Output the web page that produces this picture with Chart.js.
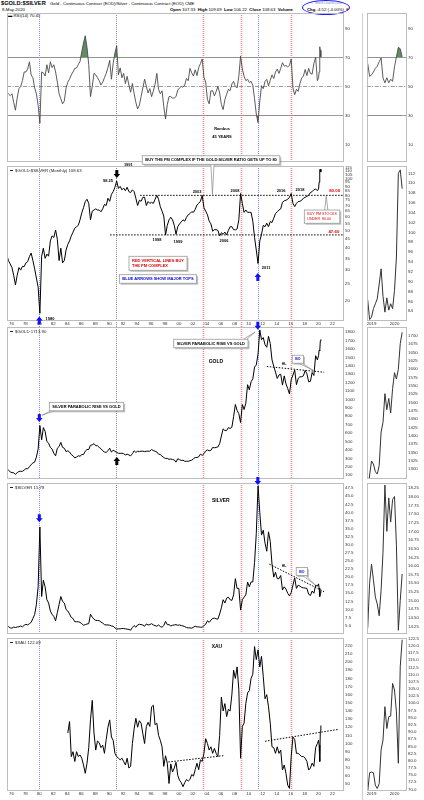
<!DOCTYPE html>
<html>
<head>
<meta charset="utf-8">
<script src="https://cdn.jsdelivr.net/npm/chart.js@4/dist/chart.umd.min.js"></script>
<style>
  body { margin: 0; background: #fff; width: 424px; height: 800px; position: relative; overflow: hidden;
         font-family: "Liberation Sans", Arial, sans-serif; }
  canvas { position: absolute; }
  .t { position: absolute; white-space: nowrap; color: #000; line-height: 1; }
</style>
</head>
<body>
<div class="t" style="left:1px;top:1px;font-size:5.7px;font-weight:bold">$GOLD:$SILVER</div>
<div class="t" style="left:50px;top:2px;font-size:4.3px">Gold - Continuous Contract (EOD)/Silver - Continuous Contract (EOD) CME</div>
<div class="t" style="left:311px;top:1.5px;font-size:3.6px;color:#7d8db0">&copy; StockCharts.com</div>
<div class="t" style="left:2px;top:7.5px;font-size:4.3px">8-May-2020</div>
<div class="t" style="left:170px;top:7.5px;font-size:4.3px"><b>Open</b> 107.33 &nbsp;<b>High</b> 109.69 &nbsp;<b>Low</b> 106.22 &nbsp;<b>Close</b> 108.63 &nbsp;<b>Volume</b></div>
<div class="t" style="left:307px;top:7.5px;font-size:4.3px"><b>Chg</b> -4.52 (-4.00%) <span style="color:#d00">&#9660;</span></div>
<div style="position:absolute;left:302px;top:0;width:46px;height:13px;border:1.3px solid #1c1cff;border-radius:50%"></div>
<div class="t" style="left:8px;top:13.5px;font-size:4.3px">&#9644; RSI(14) 70.43</div>
<div style="position:absolute;left:362px;top:13px;width:0;height:787px;border-left:1px solid #d0d0d0"></div>

<script>
// ---- data: quarterly closes from May 1975, then monthly for 2020 ----
const quarterlyFrom = 1975.33;
const quarterlyCount = 179;
const lastMonths = [2020.0, 2020.08, 2020.17, 2020.25, 2020.33];

const rsiValues = [
  46, 44.8, 43.7, 45, 39, 33.6, 42, 48.5, 50, 54,
  60, 60, 62, 67, 58, 56, 49, 45, 37, 24.6,
  60, 59.4, 57.2, 65, 59.4, 67, 63, 65, 60, 53,
  45, 41.5, 38, 40, 49, 53, 55, 58, 60, 62.5,
  62.8, 65, 67.3, 74, 80, 85, 77, 65, 43, 50,
  59, 58, 56, 54, 51, 53, 56, 59, 63, 68,
  55, 66, 73, 78, 58, 62.8, 56, 59, 52, 57,
  51, 46, 52, 45, 39, 34.5, 37, 43, 49, 55,
  50, 45.5, 48.5, 43, 46.7, 51.5, 59, 48, 45, 47,
  36, 27.5, 37.5, 43, 43, 42, 42, 43, 47.5, 49,
  50, 49.5, 51, 55.5, 54, 62.5, 59.4, 57.2, 61.5, 57.5,
  63, 65.8, 69, 56.4, 53, 41, 38, 47, 47, 43.5,
  46.5, 50, 45.5, 37.5, 34, 41, 44.6, 48, 47.1, 51.7,
  53.5, 50, 49, 57, 71, 62, 57, 54, 55, 52.7,
  53.5, 50.7, 41.5, 31, 25, 40, 50.5, 48.5, 53.5, 54.9,
  50.4, 54.2, 58, 55.5, 60, 62, 59, 62.5, 66.4, 64,
  64.5, 63.5, 64.5, 69, 49, 44.3, 48, 46.6, 52, 55.8,
  57.2, 61.7, 57.5, 62.5, 59, 58.5, 66, 70, 54,
  56, 60, 77.4, 75, 70.43
];

const ratioValues = [
  36.6, 34, 32.5, 31, 28, 24.7, 28, 31, 30, 31.5,
  31.4, 33, 33.5, 35.8, 37.5, 34, 30.5, 27, 24, 17,
  36, 40, 35, 37, 36, 44, 47, 46, 50.8, 45,
  34, 40, 33, 34, 39, 42, 44, 47, 49.4, 52,
  53, 54, 58, 63.6, 68, 73.7, 76, 72, 58, 65,
  66, 67, 66, 66, 64.5, 67, 71, 70, 77, 74,
  81, 84, 89, 96.6, 87.6, 90, 86, 88, 85, 89,
  84, 83, 86, 84, 77, 70, 75, 74, 78, 78,
  70, 73.7, 72, 73, 72, 76, 80, 76, 69, 65,
  61, 47.5, 54, 58, 60, 58, 54, 48, 53, 55,
  56.5, 58, 57, 60, 62, 63, 64.5, 64, 66.5, 70.5,
  72, 74, 80, 68, 65, 62, 57, 55, 50, 51,
  51, 50.5, 47, 49, 48, 49.4, 47.5, 50.5, 53, 53,
  51, 50.8, 51.5, 58, 82, 72, 64, 66, 64, 64,
  64, 57, 46, 39, 32.7, 44, 48, 54, 53, 55.5,
  53, 56.7, 56, 59.3, 63, 64.5, 66, 67, 73, 74.5,
  75, 76, 78, 82, 72, 69, 72, 73.7, 74, 75,
  77, 78, 79, 80, 83, 84, 86, 87, 85,
  87, 95, 112, 113, 108.63
];

const goldValues = [
  167, 160, 140, 130, 128, 110, 130, 143, 147, 145,
  161, 178, 175, 200, 225, 245, 255, 315, 410, 690,
  520, 665, 620, 500, 480, 430, 410, 360, 330, 420,
  440, 490, 430, 420, 380, 390, 375, 345, 330, 305,
  315, 330, 325, 345, 345, 385, 405, 405, 455, 460,
  475, 450, 450, 430, 415, 390, 375, 370, 390, 420,
  375, 395, 385, 370, 360, 360, 360, 355, 340, 350,
  340, 330, 355, 390, 370, 385, 380, 385, 385, 380,
  385, 385, 385, 405, 392, 385, 375, 350, 345, 325,
  310, 298, 300, 288, 292, 287, 280, 255, 295, 285,
  275, 278, 265, 265, 265, 272, 278, 295, 310, 310,
  318, 350, 335, 355, 385, 400, 390, 395, 430, 425,
  430, 435, 475, 565, 650, 630, 630, 665, 655, 670,
  795, 940, 870, 830, 725, 940, 880, 955, 1175, 1115,
  1210, 1245, 1385, 1410, 1540, 1825, 1710, 1735, 1650, 1620,
  1750, 1665, 1470, 1395, 1325, 1250, 1290, 1300, 1170, 1280,
  1185, 1130, 1065, 1235, 1290, 1350, 1175, 1250, 1270, 1270,
  1280, 1345, 1305, 1210, 1215, 1320, 1285, 1520, 1470,
  1520, 1585, 1577, 1694, 1713.9
];

const silverValues = [
  4.5, 4.7, 4.3, 4.2, 4.55, 4.4, 4.6, 4.6, 4.9, 4.6,
  5.1, 5.4, 5.2, 5.6, 6.0, 7.2, 8.4, 11.5, 17, 35.5,
  14, 19, 17, 13, 12, 9.5, 8.5, 7.8, 6.5, 9,
  11.5, 14, 12.5, 12, 10, 9.5, 8.6, 7.5, 7.2, 6.2,
  6.2, 6.2, 6.0, 5.6, 5.1, 5.3, 5.5, 5.6, 8.5, 7.6,
  7.0, 6.6, 6.6, 6.5, 6.1, 5.8, 5.3, 5.2, 5.2, 5.1,
  4.9, 4.8, 4.3, 3.9, 4.0, 4.0, 4.1, 4.1, 4.0, 3.9,
  3.8, 3.6, 4.4, 5.0, 4.5, 5.2, 5.4, 5.3, 5.2, 4.8,
  5.5, 5.2, 5.3, 5.6, 5.2, 5.0, 4.8, 5.2, 4.7, 4.5,
  5.0, 6.3, 5.3, 5.3, 4.9, 5.1, 5.2, 5.3, 5.1, 5.2,
  5.0, 4.9, 4.7, 4.4, 4.3, 4.3, 4.2, 4.5, 4.8, 4.6,
  4.6, 4.5, 4.5, 5.0, 5.4, 6.5, 6.0, 6.7, 7.2, 7.3,
  7.1, 7.0, 8.6, 10.5, 13.0, 12.0, 13.5, 13.8, 13.0, 12.8,
  14.5, 19.5, 16.5, 16.5, 9.8, 13.0, 13.8, 14.5, 18.5, 17.0,
  18.5, 18.5, 24.5, 33.5, 48.2, 40, 33, 34.5, 30.5, 28,
  34, 31, 24, 20, 21.5, 19.5, 19.5, 20.5, 16, 17,
  16.3, 15, 14.2, 15.2, 17.5, 19.8, 16.5, 17.5, 17.2, 16.8,
  16.7, 16.6, 16.5, 14.7, 14.3, 15.7, 15.0, 17.5, 17.2,
  17.9, 16.6, 14.0, 15.0, 15.78
];

// XAU starts in 1984 (quarter index 35)
const xauFirstIndex = 35;
const xauValues = [
  113, 127, 84, 90, 78,
  90, 84, 86, 82, 73.7, 63.5, 75.8, 95, 129, 153,
  113, 92, 103, 101, 95, 98, 88, 105, 120, 129,
  108, 104, 88, 84, 82, 80, 82, 78, 73.7, 82,
  70, 72, 100, 118, 131, 120, 128, 125, 112, 100,
  121, 126, 121, 145, 147, 123, 125, 110, 104, 96,
  72, 85, 76, 51, 75, 65, 70, 77, 61, 55,
  52, 47, 52, 56, 54, 56, 62, 60, 68, 75.8,
  68, 80, 78, 88, 106, 100, 92, 96, 88, 94,
  88, 84, 110, 157, 140, 149, 133, 142, 140, 160,
  190, 180, 194, 166, 82, 121, 125, 149, 162, 165,
  180, 185, 219, 203, 215, 194, 207, 182, 155, 160,
  145, 125, 96, 95, 88, 96, 88, 92, 67.5, 73.7,
  63.5, 49, 45, 84, 108, 105, 88, 88, 86, 84,
  84, 82, 78, 67.5, 70, 76, 72, 95, 100,
  104, 98, 78, 115, 122.09
];

// ---- right-hand detail charts: monthly Nov 2018 .. May 2020 ----
const smallFrom = 2018.833;
const smallRsi = [65.9, 57, 58, 60, 62.5, 64, 67, 69.7, 55.8, 52.5, 56, 52.5, 55, 53.5, 63.6, 70.4, 77, 76, 70.4];
const smallRatio = [86.3, 82.3, 82.8, 84.5, 85.5, 86.5, 89.5, 92.6, 87, 83.8, 86.7, 84.2, 85.5, 84.5, 88.2, 95, 112, 112.7, 108.9];
const smallGold = [1222, 1282, 1324, 1315, 1292, 1285, 1310, 1411, 1440, 1526, 1478, 1512, 1468, 1541, 1589, 1570, 1599, 1676, 1710];
const smallSilver = [14.2, 15.5, 16.05, 15.6, 15.1, 14.9, 14.56, 15.3, 16.4, 18.34, 17.0, 17.97, 17.27, 17.92, 18.01, 16.6, 14.14, 15.0, 15.77];
const smallXau = [69.2, 75.8, 76, 75.8, 71.5, 70.3, 72, 83.7, 87.2, 98.8, 91.2, 95.3, 95.5, 106.9, 104.6, 97, 79.1, 112.7, 122.09];

// ---- axis ticks ----
const yearTicks = [1976, 1978, 1980, 1982, 1984, 1986, 1988, 1990, 1992, 1994, 1996, 1998,
                   2000, 2002, 2004, 2006, 2008, 2010, 2012, 2014, 2016, 2018, 2020, 2022];
const smallYearTicks = [2019, 2020];
const rsiTicks = [10, 30, 50, 70, 90];
const ratioTicks = [20, 25, 30, 35, 40, 45, 50, 55, 60, 65, 70, 75, 80, 85, 90, 95, 100, 105, 110, 115];
const goldTicks = [100, 200, 300, 400, 500, 600, 700, 800, 900, 1000, 1100, 1200, 1300, 1400, 1500, 1600, 1700, 1800];
const silverTicks = [5, 7.5, 10, 12.5, 15, 17.5, 20, 22.5, 25, 27.5, 30, 32.5, 35, 37.5, 40, 42.5, 45, 47.5];
const xauTicks = [50, 60, 70, 80, 90, 100, 110, 120, 130, 140, 150, 160, 170, 180, 190, 200, 210, 220];
const smallRatioTicks = [84, 86, 88, 90, 92, 94, 96, 98, 100, 102, 104, 106, 108, 110, 112];
const smallGoldTicks = [1300, 1325, 1350, 1375, 1400, 1425, 1450, 1475, 1500, 1525, 1550, 1575, 1600, 1625, 1650, 1675, 1700];
const smallSilverTicks = [14.25, 14.5, 14.75, 15, 15.25, 15.5, 15.75, 16, 16.25, 16.5, 16.75, 17, 17.25, 17.5, 17.75, 18, 18.25];
const smallXauTicks = [70, 72.5, 75, 77.5, 80, 82.5, 85, 87.5, 90, 92.5, 95, 97.5, 100, 102.5, 105, 107.5, 110, 112.5, 115, 117.5, 120, 122.5];

// vertical marker lines (buy = red, major tops = blue)
const markerYears = [1980.0, 1991.0, 2003.5, 2008.95, 2011.3, 2016.05];
const markerColors = ['#8585ff', '#8c8c8c', '#f28a8a', '#f28a8a', '#8585ff', '#f28a8a'];

const dates = [];
for (let i = 0; i < quarterlyCount; i++) dates.push(quarterlyFrom + i * 0.25);
dates.push(...lastMonths);
const xauDates = dates.slice(xauFirstIndex);
const smallDates = smallRatio.map((_, i) => smallFrom + i / 12);

Chart.defaults.font.family = '"Liberation Sans", Arial, sans-serif';
const FONT = '"Liberation Sans", Arial, sans-serif';

function series(xs, ys, color, width) {
  return { data: xs.map((x, i) => ({ x: x, y: ys[i] })), borderColor: color, borderWidth: width,
           pointRadius: 0, fill: false };
}

function rsiSets(xs, ys, color) {
  return [
    Object.assign(series(xs, ys, color, 0.9),
      { fill: { target: { value: 70 }, above: '#5f8d5f', below: 'rgba(0,0,0,0)' } }),
    Object.assign(series(xs, ys, 'rgba(0,0,0,0)', 0),
      { fill: { target: { value: 30 }, above: 'rgba(0,0,0,0)', below: '#a65a4a' } })
  ];
}

function drawNotes(chart, notes) {
  const ctx = chart.ctx, a = chart.chartArea;
  const px = v => v === 'end' ? a.right : chart.scales.x.getPixelForValue(v);
  const py = v => chart.scales.y.getPixelForValue(v);
  notes.forEach(n => {
    ctx.save();
    if (n.t === 'text') {
      ctx.font = (n.bold === false ? '' : 'bold ') + (n.size || 4) + 'px ' + FONT;
      ctx.fillStyle = n.color || '#000';
      ctx.textAlign = n.align || 'center';
      ctx.textBaseline = 'middle';
      ctx.fillText(n.s, px(n.x), py(n.y));
    } else if (n.t === 'dline') {
      ctx.strokeStyle = '#000'; ctx.lineWidth = 1; ctx.setLineDash([1.5, 1.5]);
      ctx.beginPath(); ctx.moveTo(px(n.x1), py(n.y1)); ctx.lineTo(px(n.x2), py(n.y2)); ctx.stroke();
    } else if (n.t === 'arrow') {
      const x = px(n.x), y = py(n.y), d = n.dir === 'up' ? 1 : -1;
      ctx.fillStyle = n.color;
      ctx.beginPath();
      ctx.moveTo(x, y); ctx.lineTo(x - 3.3, y + 4 * d); ctx.lineTo(x - 1.5, y + 4 * d);
      ctx.lineTo(x - 1.5, y + 8 * d); ctx.lineTo(x + 1.5, y + 8 * d); ctx.lineTo(x + 1.5, y + 4 * d);
      ctx.lineTo(x + 3.3, y + 4 * d); ctx.closePath(); ctx.fill();
    } else if (n.t === 'box') {
      const size = n.size || 4;
      ctx.font = (n.bold === false ? '' : 'bold ') + size + 'px ' + FONT;
      const lh = size + 1.5;
      const w = Math.max.apply(null, n.lines.map(l => ctx.measureText(l).width)) + 6;
      const h = n.lines.length * lh + 3;
      const cx = px(n.x), cy = py(n.y);
      const L = cx - w / 2, T = cy - h / 2;
      ctx.fillStyle = 'rgba(0,0,0,0.25)'; ctx.fillRect(L + 1.5, T + 1.5, w, h);
      if (n.to) {
        const tx = px(n.to.x), ty = py(n.to.y);
        ctx.beginPath();
        if (ty > T + h || ty < T) {
          const bx = Math.min(Math.max(tx, L + 3), L + w - 3), by = ty > T + h ? T + h : T;
          ctx.moveTo(bx - 1.6, by); ctx.lineTo(tx, ty); ctx.lineTo(bx + 1.6, by);
        } else {
          const bx = tx > cx ? L + w : L, by = Math.min(Math.max(ty, T + 2), T + h - 2);
          ctx.moveTo(bx, by - 1.6); ctx.lineTo(tx, ty); ctx.lineTo(bx, by + 1.6);
        }
        ctx.fillStyle = '#fff'; ctx.fill();
        ctx.strokeStyle = '#888'; ctx.lineWidth = 0.7; ctx.stroke();
      }
      ctx.fillStyle = '#fff'; ctx.fillRect(L, T, w, h);
      ctx.strokeStyle = '#999'; ctx.lineWidth = 0.8; ctx.strokeRect(L, T, w, h);
      ctx.fillStyle = n.color || '#000'; ctx.textAlign = 'left'; ctx.textBaseline = 'middle';
      n.lines.forEach((l, i) => ctx.fillText(l, L + 3, T + 1.5 + lh * (i + 0.5)));
    }
    ctx.restore();
  });
}

let plugCount = 0;
function decoPlugin(o) {
  return {
    id: 'deco' + (plugCount++),
    beforeDatasetsDraw(chart) {
      const ctx = chart.ctx, a = chart.chartArea, s = chart.scales;
      ctx.save();
      (o.levels || []).forEach(v => {
        const y = Math.round(s.y.getPixelForValue(v)) + 0.5;
        ctx.strokeStyle = '#9c9c9c'; ctx.lineWidth = 1;
        ctx.setLineDash(v === 50 ? [4, 1.5, 1, 1.5] : []);
        ctx.beginPath(); ctx.moveTo(a.left, y); ctx.lineTo(a.right, y); ctx.stroke();
      });
      if (o.markers) markerYears.forEach((yr, i) => {
        const x = Math.round(s.x.getPixelForValue(yr)) + 0.5;
        ctx.strokeStyle = markerColors[i];
        ctx.lineWidth = markerColors[i] === '#f28a8a' ? 1.5 : 1;
        ctx.setLineDash([1, 1]);
        ctx.beginPath(); ctx.moveTo(x, a.top); ctx.lineTo(x, a.bottom + (o.markerExtra || 0)); ctx.stroke();
      });
      ctx.restore();
    },
    afterDatasetsDraw(chart) {
      const ctx = chart.ctx, a = chart.chartArea;
      ctx.save();
      ctx.strokeStyle = '#bdbdbd'; ctx.lineWidth = 1;
      ctx.strokeRect(Math.round(a.left) + 0.5, Math.round(a.top) + 0.5,
                     Math.round(a.right - a.left), Math.round(a.bottom - a.top));
      if (o.legend) {
        ctx.fillStyle = '#222';
        ctx.fillRect(a.left + 3, a.top + 4, 3, 1);
        ctx.font = '4.3px ' + FONT; ctx.textBaseline = 'middle';
        ctx.fillText(o.legend, a.left + 8, a.top + 4.5);
      }
      ctx.restore();
      drawNotes(chart, o.notes || []);
    }
  };
}

function panel(p) {
  const c = document.createElement('canvas');
  c.width = p.w; c.height = p.h;
  c.style.left = p.left + 'px'; c.style.top = p.top + 'px';
  c.style.width = p.w + 'px'; c.style.height = p.h + 'px';
  document.body.appendChild(c);
  const tickFont = { size: 4.4, family: FONT };
  return new Chart(c, {
    type: 'line',
    data: { datasets: p.datasets },
    plugins: [decoPlugin(p.deco || {})],
    options: {
      responsive: false, animation: false, devicePixelRatio: 1,
      layout: { padding: { left: p.padLeft, top: p.padTop, right: 0, bottom: 0 } },
      elements: { point: { radius: 0 }, line: { tension: 0 } },
      plugins: { legend: { display: false }, tooltip: { enabled: false } },
      scales: {
        x: {
          type: 'linear', min: p.xMin, max: p.xMax, display: !!p.xTicks,
          grid: { display: false, drawTicks: false }, border: { display: false },
          afterBuildTicks: s => { if (p.xTicks) s.ticks = p.xTicks.map(v => ({ value: v })); },
          afterFit: s => { s.height = p.xHeight || 0; },
          ticks: { font: tickFont, color: '#333', padding: 1.5, maxRotation: 0, autoSkip: false,
                   callback: p.xFmt || (v => String(v)) }
        },
        y: {
          type: p.yType || 'linear', position: 'right', min: p.yMin, max: p.yMax,
          grid: { display: false, drawTicks: false }, border: { display: false },
          afterBuildTicks: s => { s.ticks = p.yTicks.map(v => ({ value: v })); },
          afterFit: s => { s.width = p.yWidth; },
          ticks: { font: tickFont, color: '#333', padding: 2, autoSkip: false,
                   callback: p.yFmt || (v => String(v)) }
        }
      }
    }
  });
}

const shortYear = v => String(v % 100).padStart(2, '0');
const MAIN = { left: 0, w: 366, padLeft: 7, yWidth: 23, xMin: 1975.37, xMax: 2023.5 };
const SMALL = { left: 360, w: 64, padLeft: 6.7, yWidth: 18, xMin: 2018.79, xMax: 2020.5 };

// ---- main column ----
panel(Object.assign({}, MAIN, {
  top: 0, h: 166, padTop: 13, yMin: -1.7, yMax: 100.7, yTicks: rsiTicks,
  datasets: rsiSets(dates, rsiValues, '#4a4a4a'),
  deco: { levels: [70, 50, 30], markers: true, notes: [
    { t: 'text', x: 2006.17, y: 21, s: 'Rambus' },
    { t: 'text', x: 2006.17, y: 15, s: '45 YEARS' }
  ] }
}));

panel(Object.assign({}, MAIN, {
  top: 150, h: 178, padTop: 16, xTicks: yearTicks, xHeight: 8, xFmt: shortYear,
  yType: 'logarithmic', yMin: 15.58, yMax: 117.6, yTicks: ratioTicks,
  datasets: [series(dates, ratioValues, '#000', 1)],
  deco: { markers: true, markerExtra: 8, legend: '$GOLD:$SILVER (Monthly) 108.63', notes: [
    { t: 'dline', x1: 1994.44, y1: 80, x2: 'end', y2: 80 },
    { t: 'dline', x1: 1990.14, y1: 47.6, x2: 'end', y2: 47.6 },
    { t: 'box', x: 2004.6, y: 127.2, lines: ['BUY THE PM COMPLEX IF THE GOLD:SILVER RATIO GETS UP TO 80'],
      to: { x: 2004.8, y: 81 } },
    { t: 'text', x: 1992.75, y: 119.2, s: '1991' },
    { t: 'text', x: 1989.84, y: 96.6, s: '98.25' },
    { t: 'arrow', x: 1991.1, y: 100.5, dir: 'down', color: '#000' },
    { t: 'text', x: 2002.6, y: 84, s: '2003' },
    { t: 'text', x: 2008.04, y: 85, s: '2008' },
    { t: 'text', x: 2014.63, y: 85, s: '2016' },
    { t: 'text', x: 2017.35, y: 86, s: '2018' },
    { t: 'text', x: 2022.3, y: 85, s: '80.00', color: '#e00000', size: 4.4 },
    { t: 'text', x: 1996.86, y: 44.3, s: '1998' },
    { t: 'text', x: 1999.87, y: 43.3, s: '1999' },
    { t: 'text', x: 2006.46, y: 43.8, s: '2006' },
    { t: 'text', x: 2022.2, y: 49.6, s: '47.60', color: '#e00000', size: 4.4 },
    { t: 'box', x: 2020.5, y: 60.5, lines: ['BUY PM STOCKS', 'UNDER  80.00'], color: '#e00000',
      bold: false, size: 3.6, to: { x: 2021.1, y: 79 } },
    { t: 'box', x: 1997.0, y: 32.8, lines: ['RED VERTICAL LINES BUY', 'THE PM COMPLEX'], color: '#e00000' },
    { t: 'box', x: 1997.0, y: 26.7, lines: ['BLUE ARROWS SHOW MAJOR TOPS'], color: '#0000dd' },
    { t: 'text', x: 2012.5, y: 30.8, s: '2011' },
    { t: 'text', x: 1981.53, y: 15.9, s: '1980' },
    { t: 'arrow', x: 1980.0, y: 16.3, dir: 'up', color: '#1010ff' },
    { t: 'arrow', x: 2011.3, y: 28.9, dir: 'up', color: '#1010ff' }
  ] }
}));

panel(Object.assign({}, MAIN, {
  top: 315, h: 168, padTop: 12, yMin: 62, yMax: 1861, yTicks: goldTicks,
  datasets: [series(dates, goldValues, '#000', 1)],
  deco: { markers: true, legend: '$GOLD 1713.90', notes: [
    { t: 'box', x: 2004.57, y: 1665, lines: ['SILVER PARABOLIC RISE VS GOLD'], to: { x: 2010.9, y: 1800 } },
    { t: 'text', x: 2005.3, y: 1446, s: 'GOLD', size: 5 },
    { t: 'dline', x1: 2012.58, y1: 1392, x2: 2020.79, y2: 1323 },
    { t: 'text', x: 2015.06, y: 1423, s: 'HL', size: 3.5 },
    { t: 'box', x: 2017.03, y: 1478, lines: ['BO'], color: '#0000dd', size: 3.5, to: { x: 2019.3, y: 1342 } },
    { t: 'box', x: 1986.76, y: 915, lines: ['SILVER PARABOLIC RISE VS GOLD'], to: { x: 1980.4, y: 812 } },
    { t: 'arrow', x: 1980.0, y: 731, dir: 'down', color: '#1010ff' },
    { t: 'arrow', x: 2011.3, y: 1827, dir: 'down', color: '#1010ff' },
    { t: 'arrow', x: 1991.1, y: 316, dir: 'up', color: '#000' }
  ] }
}));

panel(Object.assign({}, MAIN, {
  top: 471, h: 167, padTop: 12, yMin: 2.6, yMax: 49.1, yTicks: silverTicks, yFmt: v => v.toFixed(1),
  datasets: [series(dates, silverValues, '#000', 1)],
  deco: { markers: true, legend: '$SILVER 15.78', notes: [
    { t: 'text', x: 2006.0, y: 43.7, s: 'SILVER', size: 5 },
    { t: 'dline', x1: 2012.95, y1: 24.0, x2: 2020.79, y2: 15.5 },
    { t: 'text', x: 2015.06, y: 23.3, s: 'HL', size: 3.5 },
    { t: 'box', x: 2017.6, y: 21.7, lines: ['BO'], color: '#0000dd', size: 3.5, to: { x: 2019.5, y: 17.6 } },
    { t: 'arrow', x: 1980.0, y: 37, dir: 'down', color: '#1010ff' },
    { t: 'arrow', x: 2011.3, y: 48.5, dir: 'down', color: '#1010ff' }
  ] }
}));

panel(Object.assign({}, MAIN, {
  top: 626, h: 174, padTop: 12, xTicks: yearTicks, xHeight: 10, xFmt: shortYear,
  yMin: 43, yMax: 229.5, yTicks: xauTicks,
  datasets: [series(xauDates, xauValues, '#000', 1)],
  deco: { markers: true, legend: '$XAU 122.09', notes: [
    { t: 'text', x: 2005.44, y: 218.5, s: 'XAU', size: 5 },
    { t: 'dline', x1: 1998.48, y1: 77.4, x2: 2006.36, y2: 85.1 },
    { t: 'dline', x1: 2012.33, y1: 102.8, x2: 2022.94, y2: 117.5 }
  ] }
}));

// ---- right-hand detail column ----
panel(Object.assign({}, SMALL, {
  top: 0, h: 166, padTop: 13, yMin: -1.7, yMax: 100.7, yTicks: rsiTicks,
  datasets: rsiSets(smallDates, smallRsi, '#4a4a4a'),
  deco: { levels: [70, 50, 30] }
}));
panel(Object.assign({}, SMALL, {
  top: 150, h: 178, padTop: 16, xTicks: smallYearTicks, xHeight: 8,
  yMin: 82.2, yMax: 113.5, yTicks: smallRatioTicks,
  datasets: [series(smallDates, smallRatio, '#333', 1)]
}));
panel(Object.assign({}, SMALL, {
  top: 315, h: 168, padTop: 12, yMin: 1272, yMax: 1726, yTicks: smallGoldTicks,
  datasets: [series(smallDates, smallGold, '#333', 1)]
}));
panel(Object.assign({}, SMALL, {
  top: 471, h: 167, padTop: 12, yMin: 14.05, yMax: 18.4, yTicks: smallSilverTicks, yFmt: v => v.toFixed(2),
  datasets: [series(smallDates, smallSilver, '#333', 1)]
}));
panel(Object.assign({}, SMALL, {
  top: 626, h: 174, padTop: 12, xTicks: smallYearTicks, xHeight: 10,
  yMin: 69.8, yMax: 122.7, yTicks: smallXauTicks, yFmt: v => v.toFixed(1),
  datasets: [series(smallDates, smallXau, '#333', 1)]
}));
</script>
</body>
</html>
